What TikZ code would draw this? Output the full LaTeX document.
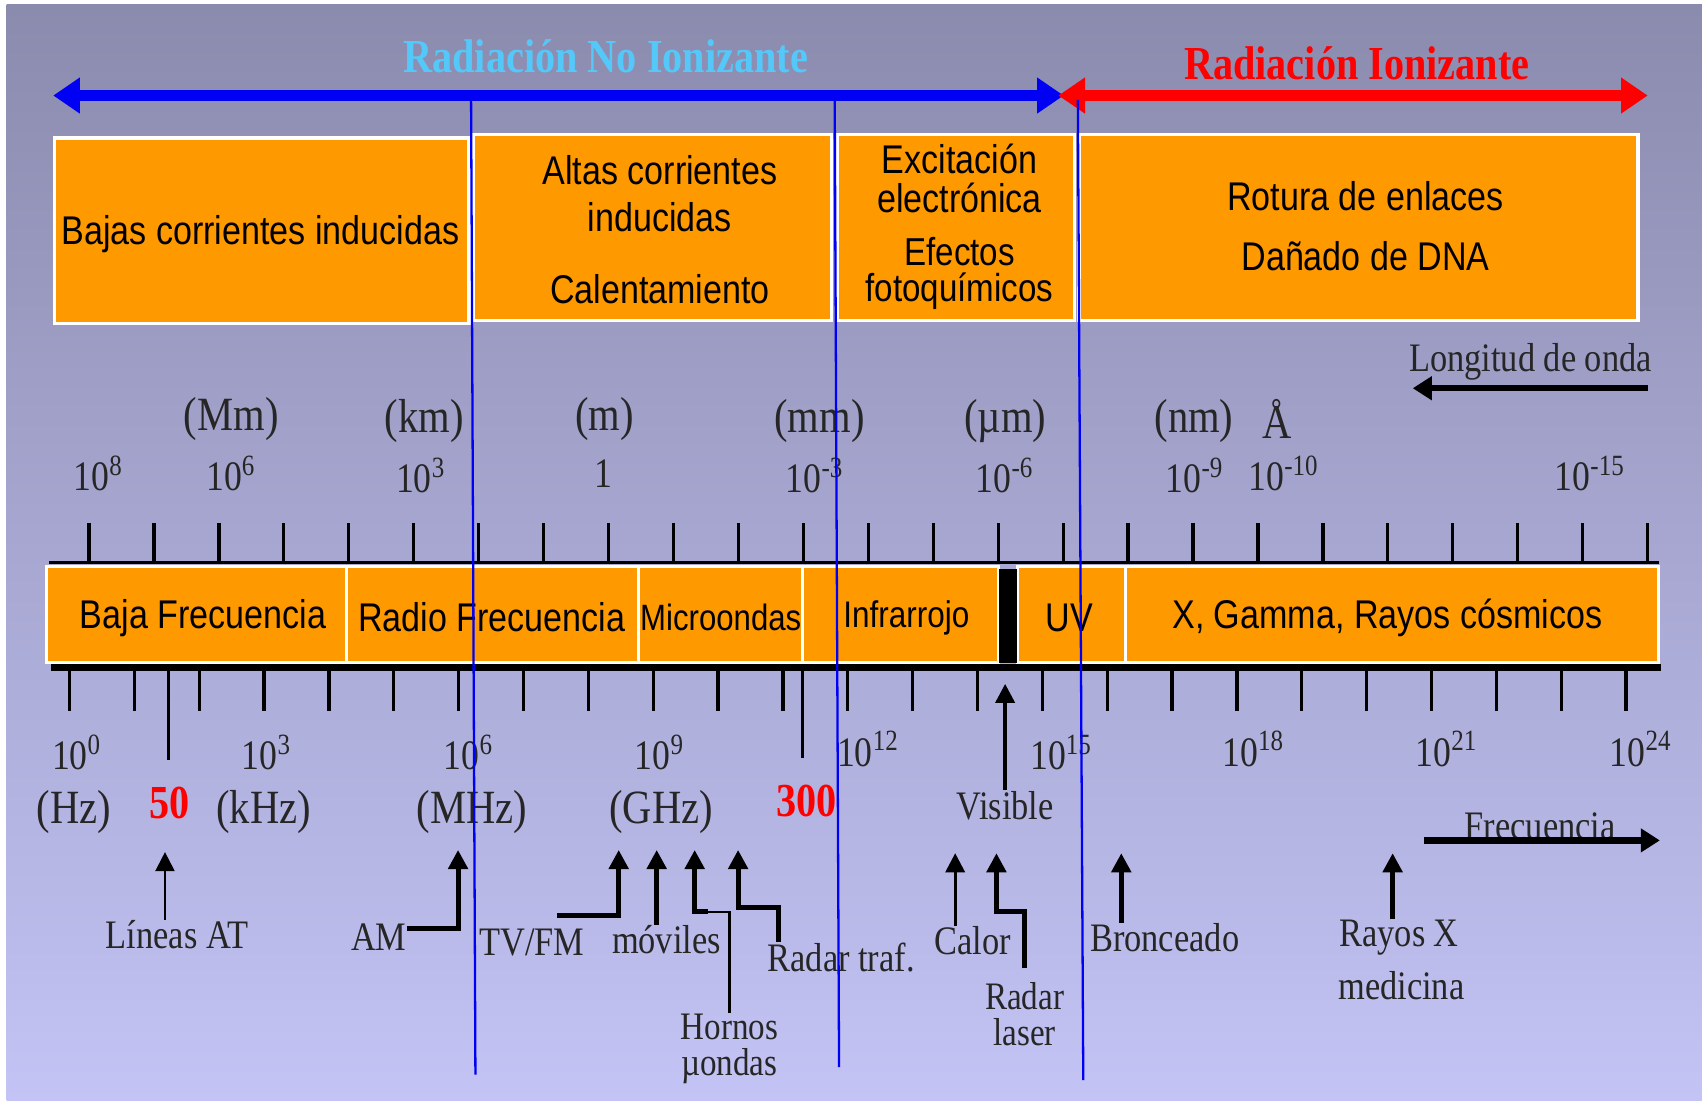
\documentclass[tikz,border=0pt]{standalone}
\usepackage{fontspec}
\setmainfont[FakeStretch=0.85]{Liberation Serif}
\setsansfont[FakeStretch=0.85]{Liberation Sans}
\usetikzlibrary{arrows.meta,calc}

\begin{document}
\begin{tikzpicture}[x=0.01cm,y=-0.01cm,
    lbl/.style={inner sep=0pt,text=black!85,font=\fontsize{10.6}{12}\selectfont},
    unitlbl/.style={lbl,font=\fontsize{12.5}{14}\selectfont},
    powlbl/.style={lbl,font=\fontsize{11}{13}\selectfont},
    eff/.style={inner sep=0pt,font=\sffamily\fontsize{10.5}{12}\selectfont},
    effbox/.style={fill=boxorange,draw=white,line width=0.9pt},
    bandbox/.style={fill=boxorange,draw=white,line width=0.8pt},
    title/.style={inner sep=0pt,font=\bfseries\fontsize{12.4}{14}\selectfont},
    redval/.style={inner sep=0pt,text=red,font=\bfseries\fontsize{12.4}{14}\selectfont},
    tick/.style={line width=0.85pt},
    bigarrow/.style={line width=3.1pt,{Triangle[length=7pt,width=9pt]}-{Triangle[length=7pt,width=9pt]}},
    dirarrow/.style={line width=1.7pt,-{Triangle[length=5pt,width=6pt]}},
    apparrow/.style={line width=1.3pt,-{Triangle[length=5pt,width=5pt]}},
    thinarrow/.style={line width=0.6pt,-{Triangle[length=5pt,width=5pt]}},
    sepline/.style={draw=arrowblue,line width=0.6pt}]
    \definecolor{bgtop}{RGB}{139,139,174}
    \definecolor{bgbot}{RGB}{195,195,245}
    \definecolor{boxorange}{RGB}{255,153,0}
    \definecolor{titleblue}{RGB}{85,200,250}
    \definecolor{arrowblue}{RGB}{0,0,245}

    \fill[white] (0,0) rectangle (1568,1014);
    \shade[top color=bgtop,bottom color=bgbot] (6,4) rectangle (1568,1014);
    \useasboundingbox (0,0) rectangle (1568,1014);

    % ionizing / non ionizing
    \node[title,text=titleblue] (tNon) at (558,52) {Radiación No Ionizante};
    \node[title,text=red] (tIon) at (1250,58) {Radiación Ionizante};
    \coordinate (nonL) at (49,88);
    \coordinate (nonR) at (980,88);
    \coordinate (ionL) at (975,88);
    \coordinate (ionR) at (1518,88);
    \draw[bigarrow,arrowblue] (nonL) -- (nonR);
    \draw[bigarrow,red] (ionL) -- (ionR);

    % effects
    \filldraw[effbox] (50,127) rectangle (432,298);
    \filldraw[effbox] (436,124) rectangle (766,295);
    \filldraw[effbox] (771,124) rectangle (990,295);
    \filldraw[effbox] (994,124) rectangle (1509,295);
    \node[eff] (e1) at (240,216) {Bajas corrientes inducidas};
    \node[eff] (e2a) at (608,157) {Altas corrientes};
    \node[eff] (e2b) at (608,200) {inducidas};
    \node[eff] (e2c) at (608,266) {Calentamiento};
    \node[eff] (e3a) at (884,146) {Excitación};
    \node[eff] (e3b) at (884,182) {electrónica};
    \node[eff,align=center,font=\sffamily\fontsize{10.2}{9.6}\selectfont] (e3c) at (884,252) {Efectos\\fotoquímicos};
    \node[eff] (e4a) at (1258,181) {Rotura de enlaces};
    \node[eff] (e4b) at (1258,236) {Dañado de DNA};

    % wavelength scale
    \node[lbl] (lbLon) at (1410,333) {Longitud de onda};
    \draw[dirarrow] ($(lbLon.south east)+(-4,7)$) -- ($(lbLon.south west)+(4,7)$);
    \node[unitlbl] (uMm) at (213,386) {(Mm)};
    \node[unitlbl] (ukm) at (391,388) {(km)};
    \node[unitlbl] (um) at (557,386) {(m)};
    \node[unitlbl] (umm) at (755,388) {(mm)};
    \node[unitlbl] (uum) at (926,388) {(µm)};
    \node[unitlbl] (unm) at (1100,388) {(nm)};
    \node[unitlbl] (uA) at (1177,386) {Å};
    \node[powlbl] (w8) at (91,436) {10\textsuperscript{8}};
    \node[powlbl] (w6) at (213,436) {10\textsuperscript{6}};
    \node[powlbl] (w3) at (388,438) {10\textsuperscript{3}};
    \node[powlbl] (w0) at (556,436) {1};
    \node[powlbl] (wm3) at (751,438) {10\textsuperscript{-3}};
    \node[powlbl] (wm6) at (926,438) {10\textsuperscript{-6}};
    \node[powlbl] (wm9) at (1101,438) {10\textsuperscript{-9}};
    \node[powlbl] (wm10) at (1183,436) {10\textsuperscript{-10}};
    \node[powlbl] (wm15) at (1465,436) {10\textsuperscript{-15}};
    \foreach \i in {0,...,24}
        \draw[tick] ({82+59.83*\i},482) -- ({82+59.83*\i},518);
    \draw[line width=0.85pt] (45,518) -- (1528,518);

    % spectrum band
    \filldraw[bandbox] (43,522) rectangle (319,610);
    \filldraw[bandbox] (319,522) rectangle (588,610);
    \filldraw[bandbox] (588,522) rectangle (739,610);
    \filldraw[bandbox] (739,522) rectangle (920,610);
    \filldraw[bandbox] (937,522) rectangle (1037,610);
    \filldraw[bandbox] (1037,522) rectangle (1528,610);
    \fill[black] (920,524) rectangle (937,611);
    \node[eff] (bBaja) at (187,569) {Baja Frecuencia};
    \node[eff] (bRadio) at (453,569) {Radio Frecuencia};
    \node[eff,font=\sffamily\fontsize{9.6}{12}\selectfont] (bMicro) at (664,569) {Microondas};
    \node[eff,font=\sffamily\fontsize{9.7}{12}\selectfont] (bIR) at (835,569) {Infrarrojo};
    \node[eff] (bUV) at (985,569) {UV};
    \node[eff] (bX) at (1278,569) {X, Gamma, Rayos cósmicos};
    \draw[line width=2pt] (47,615) -- (1530,615);

    % frequency scale
    \foreach \i in {0,...,24}
        \draw[tick] ({64+59.75*\i},618) -- ({64+59.75*\i},655);
    \draw[tick] (155,618) -- (155,700);
    \draw[tick] (739,618) -- (739,698);
    \node[powlbl] (f0) at (71,693) {10\textsuperscript{0}};
    \node[powlbl] (f3) at (246,693) {10\textsuperscript{3}};
    \node[powlbl] (f6) at (432,693) {10\textsuperscript{6}};
    \node[powlbl] (f9) at (608,693) {10\textsuperscript{9}};
    \node[powlbl] (f12) at (800,690) {10\textsuperscript{12}};
    \node[powlbl] (f15) at (978,693) {10\textsuperscript{15}};
    \node[powlbl] (f18) at (1155,690) {10\textsuperscript{18}};
    \node[powlbl] (f21) at (1333,690) {10\textsuperscript{21}};
    \node[powlbl] (f24) at (1512,690) {10\textsuperscript{24}};
    \node[unitlbl] (uHz) at (68,748) {(Hz)};
    \node[unitlbl] (ukHz) at (243,748) {(kHz)};
    \node[unitlbl] (uMHz) at (435,748) {(MHz)};
    \node[unitlbl] (uGHz) at (609,748) {(GHz)};
    \node[redval] (v50) at (156,740) {50};
    \node[redval] (v300) at (743,738) {300};
    \node[lbl] (lbVis) at (926,742) {Visible};
    \coordinate (tipVis) at (926,630);
    \draw[apparrow,line width=1pt] (lbVis.north) -- (tipVis);
    \node[lbl] (lbFre) at (1419,761) {Frecuencia};
    \draw[dirarrow] ($(lbFre.south west)+(-37,0)$) -- ($(lbFre.south east)+(40,0)$);

    % applications
    \node[lbl] (lbAT) at (163,861) {Líneas AT};
    \node[lbl] (lbAM) at (349,863) {AM};
    \node[lbl] (lbTV) at (490,868) {TV/FM};
    \node[lbl] (lbMov) at (614,866) {móviles};
    \node[lbl,align=center,font=\fontsize{10.2}{9.4}\selectfont] (lbHor) at (672,966) {Hornos\\µondas};
    \node[lbl] (lbRT) at (775,882) {Radar traf.};
    \node[lbl] (lbCal) at (896,867) {Calor};
    \node[lbl,align=center,font=\fontsize{10.2}{9.4}\selectfont] (lbRL) at (944,934) {Radar\\laser};
    \node[lbl] (lbBr) at (1073,864) {Bronceado};
    \node[lbl] (lbRX) at (1289,864) {Rayos X};
    \node[lbl] (lbRX2) at (1291,908) {medicina};
    \coordinate (tipAT) at (152,785);
    \coordinate (tipAM) at (422,783);
    \coordinate (tipTV) at (570,783);
    \coordinate (tipMov) at (605,783);
    \coordinate (tipHor) at (640,783);
    \coordinate (tipRT) at (680,783);
    \coordinate (tipCal) at (880,786);
    \coordinate (tipRL) at (918,786);
    \coordinate (tipBr) at (1033,786);
    \coordinate (tipRX) at (1283,786);
    \draw[thinarrow] (lbAT.north -| tipAT) -- (tipAT);
    \draw[apparrow] ([yshift=0.08cm]lbAM.east) -| (tipAM);
    \draw[apparrow] ($(lbTV.north)+(23,-11)$) -| (tipTV);
    \draw[apparrow] (lbMov.north -| tipMov) -- (tipMov);
    \draw[line width=0.6pt] (lbHor.north) |- ($(tipHor)+(12,57)$);
    \draw[apparrow] ($(tipHor)+(12,57)$) -| (tipHor);
    \draw[apparrow] ($(lbRT.north west)+(11,0)$) |- ($(tipRT)+(0,53)$) -- (tipRT);
    \draw[thinarrow,line width=0.8pt] (lbCal.north -| tipCal) -- (tipCal);
    \draw[apparrow] ($(lbRL.north)+(0,-12)$) |- ($(tipRL)+(0,54)$) -- (tipRL);
    \draw[apparrow] (lbBr.north -| tipBr) -- (tipBr);
    \draw[apparrow] (lbRX.north -| tipRX) -- (tipRX);

    % region limits
    \draw[sepline] (434,92) -- (438,990);
    \draw[sepline] (769,92) -- (773,983);
    \draw[sepline] (993,92) -- (998,995);
\end{tikzpicture}
\end{document}
